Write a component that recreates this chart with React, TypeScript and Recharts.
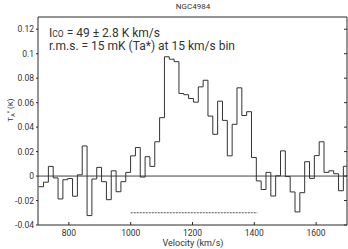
import React from 'react';
import { ComposedChart, Line, XAxis, YAxis, ReferenceLine } from 'recharts';

// Channel left edges (km/s)
const velocities = [
  702.3, 717.95, 733.6, 749.25, 764.9, 780.55, 796.2, 811.85, 827.5, 843.15,
  858.8, 874.45, 890.1, 905.75, 921.4, 937.05, 952.7, 968.35, 984.0, 999.65,
  1015.3, 1030.95, 1046.6, 1062.25, 1077.9, 1093.55, 1109.2, 1124.85, 1140.5, 1156.15,
  1171.8, 1187.45, 1203.1, 1218.75, 1234.4, 1250.05, 1265.7, 1281.35, 1297.0, 1312.65,
  1328.3, 1343.95, 1359.6, 1375.25, 1390.9, 1406.55, 1422.2, 1437.85, 1453.5, 1469.15,
  1484.8, 1500.45, 1516.1, 1531.75, 1547.4, 1563.05, 1578.7, 1594.35, 1610.0, 1625.65,
  1641.3, 1656.95, 1672.6, 1688.25,
];
// Antenna temperature TA* (K)
const tempK = [
  -0.0087, -0.005, 0.0079, -0.0015, -0.0187, -0.003, -0.002, -0.0165, 0.001, 0.0246,
  -0.0323, -0.0024, 0.0071, -0.0046, -0.0193, 0.0043, -0.0128, -0.0046, 0.003, 0.0165,
  0.0233, -0.0008, 0.0158, 0.0079, 0.028, 0.0477, 0.0975, 0.0955, 0.0935, 0.0675,
  0.0665, 0.0634, 0.0604, 0.0729, 0.0783, 0.049, 0.0341, 0.0612, 0.0455, 0.0165,
  0.0423, 0.0721, 0.0495, 0.0526, 0.0152, -0.004, -0.011, 0.003, -0.0163, 0.0002,
  0.0206, -0.0004, -0.013, -0.0293, -0.0136, 0.0117, -0.0019, 0.0167, 0.028, 0.003,
  0.0043, 0.0019, -0.012, 0.008,
];
const velocityEnd = 1700;
const velocityTicks = [800, 1000, 1200, 1400, 1600];
const tempTicks = [-0.04, -0.02, 0, 0.02, 0.04, 0.06, 0.08, 0.1, 0.12];
const xDomain = [700, 1700];
const yDomain = [-0.04, 0.13];
const lineWidthRange = [1000, 1410];
const lineWidthLevel = -0.03;

const data = velocities
  .map((v, i) => ({ v, t: tempK[i] }))
  .concat([{ v: velocityEnd, t: tempK[tempK.length - 1] }]);

const FONT = 'Roboto, sans-serif';
const AX = '#2a2a2a';
const TXT = '#333';

const BottomTick = (props: any) => {
  const { x, y, payload } = props;
  return (
    <g>
      <line x1={x} x2={x} y1={y} y2={y - 3} stroke={AX} />
      <text x={x} y={y + 10.5} textAnchor="middle" fontSize={8.5} fill={TXT} fontFamily={FONT}>
        {payload.value}
      </text>
    </g>
  );
};
const TopTick = (props: any) => {
  const { x, y } = props;
  return <line x1={x} x2={x} y1={y} y2={y + 3} stroke={AX} />;
};
const RightTick = (props: any) => {
  const { x, y } = props;
  return <line x1={x} x2={x - 3} y1={y} y2={y} stroke={AX} />;
};

export default function App() {
  return (
    <div style={{ position: 'absolute', left: 0, top: 0, width: 348, height: 249, background: '#fff' }}>
      <ComposedChart width={348} height={249} data={data} margin={{ top: 16, right: 0, bottom: 0, left: 0 }}>
        <XAxis
          xAxisId="x"
          dataKey="v"
          type="number"
          domain={xDomain}
          ticks={velocityTicks}
          allowDataOverflow
          height={24}
          tickSize={0}
          tickMargin={0}
          tickLine={false}
          tick={<BottomTick />}
          stroke={AX}
          interval={0}
        />
        <XAxis
          xAxisId="top"
          orientation="top"
          type="number"
          domain={xDomain}
          ticks={velocityTicks}
          allowDataOverflow
          height={1}
          tickSize={0}
          tickMargin={0}
          tickLine={false}
          tick={<TopTick />}
          stroke={AX}
          interval={0}
        />
        <YAxis
          yAxisId="y"
          type="number"
          domain={yDomain}
          ticks={tempTicks}
          allowDataOverflow
          width={38}
          tickSize={2}
          tickMargin={2}
          stroke={AX}
          tick={{ fontSize: 8.5, fill: TXT, fontFamily: FONT }}
          interval={0}
        />
        <YAxis
          yAxisId="r"
          orientation="right"
          type="number"
          domain={yDomain}
          ticks={tempTicks}
          allowDataOverflow
          width={1}
          tickSize={0}
          tickMargin={0}
          tickLine={false}
          tick={<RightTick />}
          stroke={AX}
          interval={0}
        />
        <ReferenceLine xAxisId="x" yAxisId="y" y={0} stroke="#444" strokeWidth={1} />
        <ReferenceLine
          xAxisId="x"
          yAxisId="y"
          segment={[
            { x: lineWidthRange[0], y: lineWidthLevel },
            { x: lineWidthRange[1], y: lineWidthLevel },
          ]}
          stroke="#555"
          strokeDasharray="2 1"
        />
        <Line
          xAxisId="x"
          yAxisId="y"
          dataKey="t"
          type="stepAfter"
          stroke="#333"
          strokeWidth={1}
          dot={false}
          activeDot={false}
          isAnimationActive={false}
        />
      </ComposedChart>
      <svg width={348} height={249} style={{ position: 'absolute', left: 0, top: 0, pointerEvents: 'none' }}>
        <text x={193} y={8.5} textAnchor="middle" fontSize={8} fill={TXT} fontFamily={FONT}>NGC4984</text>
        <text x={49} y={37} fontSize={12} fill={TXT} fontFamily={FONT}>
          <tspan>I</tspan>
          <tspan fontSize={8.5}>CO</tspan>
          <tspan> = 49 ± 2.8 K km/s</tspan>
        </text>
        <text x={49} y={50} fontSize={12} fill={TXT} fontFamily={FONT}>
          r.m.s. = 15 mK (Ta*) at 15 km/s bin
        </text>
        <text transform="translate(13,110) rotate(-90)" textAnchor="middle" fontSize={8} fill={TXT} fontFamily={FONT}>
          <tspan>T</tspan>
          <tspan fontSize={5.5} dy={1.5}>A</tspan>
          <tspan fontSize={5.5} dy={-4}>*</tspan>
          <tspan dy={2.5}> (K)</tspan>
        </text>
        <text x={193} y={246} textAnchor="middle" fontSize={9} fill={TXT} fontFamily={FONT}>Velocity (km/s)</text>
      </svg>
    </div>
  );
}
